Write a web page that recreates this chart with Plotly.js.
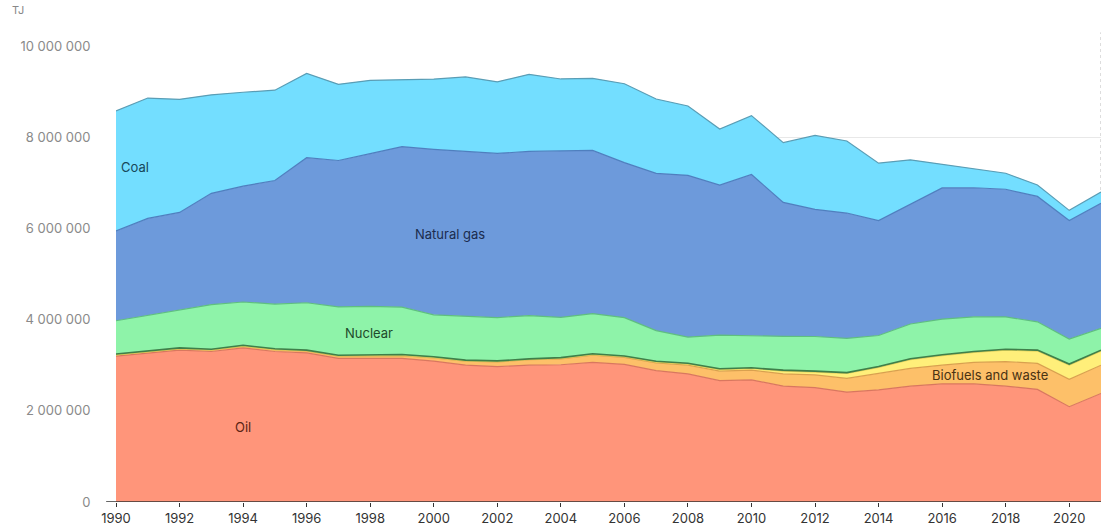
<!DOCTYPE html>
<html>
<head>
<meta charset="utf-8">
<script src="https://cdn.plot.ly/plotly-3.0.1.min.js"></script>
<style>
html,body{margin:0;padding:0;background:#fff;}
#chart{width:1101px;height:525px;}
</style>
</head>
<body>
<div id="chart"></div>
<script>
const years = [1990,1991,1992,1993,1994,1995,1996,1997,1998,1999,2000,2001,2002,2003,2004,2005,2006,2007,2008,2009,2010,2011,2012,2013,2014,2015,2016,2017,2018,2019,2020,2021];

const oil = [3200000,3260000,3330000,3300000,3380000,3300000,3270000,3150000,3150000,3150000,3090000,3000000,2970000,3000000,3010000,3060000,3020000,2880000,2810000,2660000,2680000,2540000,2510000,2410000,2460000,2540000,2590000,2590000,2540000,2470000,2090000,2380000];
const biofuels = [25000,27000,30000,33000,35000,40000,45000,50000,55000,60000,70000,90000,100000,120000,130000,160000,150000,170000,190000,210000,210000,270000,280000,300000,360000,390000,410000,470000,540000,570000,600000,620000];
const windSolar = [1000,1000,2000,2000,3000,3000,3000,4000,5000,5000,6000,6000,7000,8000,10000,13000,16000,19000,25000,32000,40000,60000,60000,110000,130000,190000,210000,220000,250000,270000,310000,310000];
const hydro = [19000,21000,19000,15000,18000,18000,12000,15000,18000,19000,18000,15000,17000,11000,17000,18000,17000,18000,19000,19000,13000,21000,19000,17000,21000,23000,19000,21000,19000,21000,25000,19000];
const nuclear = [730000,780000,820000,980000,950000,980000,1040000,1060000,1060000,1040000,920000,960000,950000,950000,880000,880000,840000,670000,570000,740000,700000,740000,760000,750000,680000,760000,780000,760000,710000,620000,550000,480000];
const naturalGas = [1970000,2130000,2150000,2440000,2540000,2710000,3180000,3210000,3350000,3520000,3630000,3610000,3600000,3600000,3660000,3580000,3400000,3450000,3550000,3290000,3540000,2940000,2790000,2750000,2520000,2630000,2880000,2830000,2800000,2750000,2600000,2740000];
const coal = [2630000,2640000,2480000,2160000,2060000,1980000,1850000,1670000,1610000,1460000,1540000,1640000,1570000,1690000,1570000,1580000,1730000,1630000,1520000,1230000,1290000,1310000,1620000,1580000,1260000,970000,520000,420000,350000,250000,220000,250000];

const yTicks = [0,2000000,4000000,6000000,8000000,10000000];
const xTicks = [1990,1992,1994,1996,1998,2000,2002,2004,2006,2008,2010,2012,2014,2016,2018,2020];

const series = [
  {name:'Oil', y:oil, fill:'#FF957A', line:'#D9775F'},
  {name:'Biofuels and waste', y:biofuels, fill:'#FDC069', line:'#D9A04F'},
  {name:'Wind, solar, etc.', y:windSolar, fill:'#FFEF7A', line:'#E0CF5A'},
  {name:'Hydro', y:hydro, fill:'#3F8A4F', line:'#3F7F4A'},
  {name:'Nuclear', y:nuclear, fill:'#8EF3A9', line:'#5FBF7F'},
  {name:'Natural gas', y:naturalGas, fill:'#6D9ADB', line:'#4F7FBF'},
  {name:'Coal', y:coal, fill:'#73DEFF', line:'#5A9DB5'}
];

const traces = series.map(s => ({
  type:'scatter', mode:'lines', x:years, y:s.y, name:s.name,
  stackgroup:'one', fillcolor:s.fill,
  line:{color:s.line, width:s.name==='Hydro'?1.6:1.2, shape:'linear'},
  hoverinfo:'skip'
}));

const labelFont = {family:'Inter, "Open Sans", sans-serif', size:13};
const annotations = [
  {x:1990.1, y:7350000, text:'Coal', xanchor:'left', font:Object.assign({color:'#17475A'}, labelFont)},
  {x:2000.5, y:5880000, text:'Natural gas', xanchor:'center', font:Object.assign({color:'#1B2C4E'}, labelFont)},
  {x:1997.95, y:3710000, text:'Nuclear', xanchor:'center', font:Object.assign({color:'#1E4A2B'}, labelFont)},
  {x:1994.0, y:1640000, text:'Oil', xanchor:'center', font:Object.assign({color:'#5A2414'}, labelFont)},
  {x:2017.5, y:2790000, text:'Biofuels and waste', xanchor:'center', font:Object.assign({color:'#4A3212'}, labelFont)},
  {xref:'paper', yref:'paper', x:-0.108, y:1.079, text:'TJ', xanchor:'left', yanchor:'middle', showarrow:false,
   font:{family:'Inter, "Open Sans", sans-serif', size:11, color:'#888'}}
].map(a => Object.assign({showarrow:false, yanchor:'middle'}, a));

const layout = {
  width:1101, height:525,
  margin:{l:116, r:0, t:46, b:23},
  paper_bgcolor:'#fff', plot_bgcolor:'#fff',
  showlegend:false,
  separators:'. ',
  font:{family:'Inter, "Open Sans", sans-serif', size:13, color:'#333'},
  xaxis:{
    range:[1990,2021], tickvals:xTicks, ticktext:xTicks.map(String),
    ticks:'outside', ticklen:4, tickcolor:'#333', tickwidth:1,
    showgrid:false, zeroline:false, showline:false,
    tickfont:{size:13, color:'#333'}, fixedrange:true
  },
  yaxis:{
    range:[0,10000000], tickvals:yTicks, ticktext:yTicks.map(v => v===0?'0':v.toLocaleString('en-US').replace(/,/g,' ')),
    showgrid:true, gridcolor:'#E8E8E8', gridwidth:1,
    zeroline:false, showline:false,
    ticks:'outside', ticklen:22, tickcolor:'rgba(0,0,0,0)',
    tickfont:{size:13, color:'#8A8A8A'}, fixedrange:true
  },
  shapes:[
    {type:'line', xref:'paper', yref:'y', x0:-0.01, x1:1, y0:0, y1:0, line:{color:'#333', width:1.5}, layer:'above'},
    {type:'line', xref:'x', yref:'paper', x0:2021, x1:2021, y0:0, y1:1.03, line:{color:'#BBB', width:1, dash:'dot'}, layer:'below'}
  ],
  annotations:annotations
};

Plotly.newPlot('chart', traces, layout, {displayModeBar:false, staticPlot:true});
</script>
</body>
</html>
